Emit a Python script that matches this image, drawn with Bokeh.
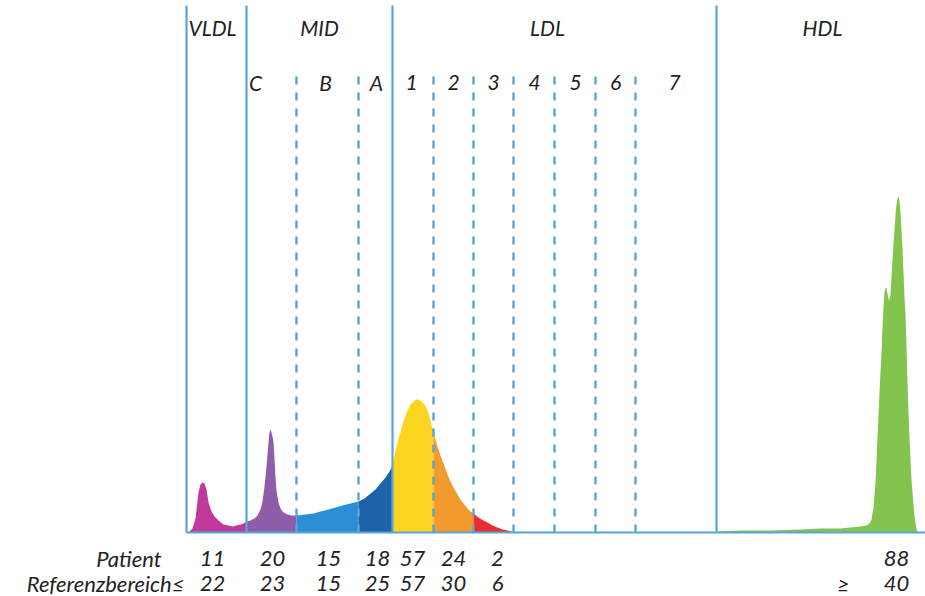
from bokeh.plotting import figure
from bokeh.models import Range1d
from bokeh.core.properties import value
from bokeh.embed import file_html
from bokeh.resources import INLINE

# ---------------- data ----------------
# mobility positions of fraction boundaries
major_bounds = [186, 246, 392, 716]
minor_bounds = [296, 358, 433, 473, 513, 554, 595, 635]

# densitometric profile per fraction: mobility, intensity
vldl_x = [188, 192, 195, 198, 200, 202, 204, 206, 208, 211, 214, 218, 223, 228, 232, 236, 240, 243, 246]
vldl_h = [0, 4, 14, 40, 48, 50, 49, 43, 30, 21, 16, 12, 8, 7, 6, 7, 8, 9, 11]

midc_x = [246, 250, 254, 257, 260, 262, 264, 266, 268, 269, 270, 271, 272, 273, 274, 275, 276, 278, 280, 283, 287, 291, 296]
midc_h = [11, 12, 14, 17, 23, 31, 46, 66, 90, 100, 103, 100, 96, 90, 74, 55, 42, 30, 24, 20, 18, 17, 17]

midb_x = [296, 305, 313, 320, 328, 335, 342, 350, 358]
midb_h = [17, 18, 19, 21, 23, 25, 27, 29, 31]

mida_x = [358, 364, 370, 375, 380, 385, 389, 392]
mida_h = [31, 34, 39, 43, 49, 55, 61, 67]

ldl1_x = [392, 395, 398, 400, 403, 407, 410, 413, 416, 418, 421, 424, 427, 430, 433]
ldl1_h = [67, 82, 94, 100, 111, 122, 128, 131, 133, 133, 131, 128, 122, 112, 100]

ldl2_x = [433, 436, 440, 443, 447, 450, 453, 457, 460, 463, 467, 470, 473]
ldl2_h = [100, 89, 77, 69, 58, 51, 45, 38, 33, 29, 24, 21, 19]

ldl3_x = [473, 478, 483, 487, 492, 497, 502, 507, 511, 514]
ldl3_h = [19, 15, 12, 10, 7, 5, 3, 2, 1, 0]

hdl_x = [718, 740, 770, 800, 820, 840, 850, 860, 866, 869, 871, 873, 875, 877, 879, 881, 882, 883, 884,
         885, 886, 887, 888, 889, 890, 891, 892, 893, 894, 895, 896, 897, 898, 899, 900, 901, 902, 903,
         904, 905, 906, 907, 908, 909, 910, 911, 912, 913, 914, 915, 916, 917]
hdl_h = [1, 2, 2, 3, 4, 4, 5, 6, 7, 9, 13, 25, 50, 95, 140, 180, 205, 225, 240,
         245, 244, 239, 234, 232, 238, 255, 272, 288, 302, 318, 328, 334, 336, 332, 320, 302, 285, 260,
         235, 218, 185, 150, 120, 95, 72, 52, 40, 28, 16, 10, 4, 0]

group_labels = ["VLDL", "MID", "LDL", "HDL"]
sub_labels = ["C", "B", "A", "1", "2", "3", "4", "5", "6", "7"]

row_labels = ["Patient", "Referenzbereich\u2264"]
patient_values = ["11", "20", "15", "18", "57", "24", "2", "88"]
reference_values = ["22", "23", "15", "25", "57", "30", "6", "40"]
reference_prefix = ["", "", "", "", "", "", "", "\u2265"]

# ---------------- layout / style ----------------
W, H = 925, 596
group_x = [212, 319, 547, 822]
sub_x = [255, 325, 376, 411, 453, 493, 534, 575, 615, 674]
value_x = [212, 272, 328, 377, 412, 453, 497, 896]
prefix_x = 843
row_label_right = [161, 184]

fractions = [
    (vldl_x, vldl_h, "#C03A9C"),
    (midc_x, midc_h, "#8E5CA8"),
    (midb_x, midb_h, "#2C8FD5"),
    (mida_x, mida_h, "#1C63AA"),
    (ldl1_x, ldl1_h, "#FAD41F"),
    (ldl2_x, ldl2_h, "#F39A2C"),
    (ldl3_x, ldl3_h, "#E6302F"),
    (hdl_x, hdl_h, "#82C44E"),
]
line_col = "#5AA5D5"
txt_col = "#222222"
font = value("Lato")

p = figure(width=W, height=H, output_backend="svg", toolbar_location=None,
           x_range=Range1d(0, W), y_range=Range1d(532 - H, 532),
           min_border=0, min_border_left=0, min_border_right=0,
           min_border_top=0, min_border_bottom=0)
p.axis.visible = False
p.xgrid.visible = False
p.ygrid.visible = False
p.outline_line_color = None
p.background_fill_color = "white"
p.border_fill_color = "white"

for xs, hs, col in fractions:
    p.varea(x=xs, y1=[0] * len(xs), y2=hs, fill_color=col, fill_alpha=1.0)

# boundaries
for bx in major_bounds:
    p.segment(x0=bx, y0=0, x1=bx, y1=527, line_color=line_col, line_width=2.2)
for bx in minor_bounds:
    p.segment(x0=bx, y0=0, x1=bx, y1=457, line_color=line_col, line_width=2.4,
              line_dash="8 8")
p.segment(x0=major_bounds[0], y0=0, x1=W, y1=0, line_color=line_col, line_width=2.2)

txt = dict(text_font=font, text_font_style="italic", text_color=txt_col,
           text_baseline="middle")

# headers
p.text(x=group_x, y=[532 - 27] * len(group_x), text=group_labels, text_align="center",
       text_font_size="21px", **txt)
p.text(x=sub_x, y=[532 - 82] * len(sub_x), text=sub_labels, text_align="center",
       text_font_size="21px", **txt)

# table rows below
row_mid = [532 - 558, 532 - 583]
p.text(x=row_label_right, y=row_mid, text=row_labels, text_align="right",
       text_font_size="22px", **txt)
p.text(x=value_x, y=[row_mid[0]] * len(value_x), text=patient_values, text_align="center",
       text_font_size="22px", **txt)
p.text(x=value_x, y=[row_mid[1]] * len(value_x), text=reference_values, text_align="center",
       text_font_size="22px", **txt)
pref = [s for s in reference_prefix if s]
p.text(x=[prefix_x] * len(pref), y=[row_mid[1]] * len(pref), text=pref, text_align="center",
       text_font_size="22px", **txt)

open("out.html", "w").write(file_html(p, INLINE))
